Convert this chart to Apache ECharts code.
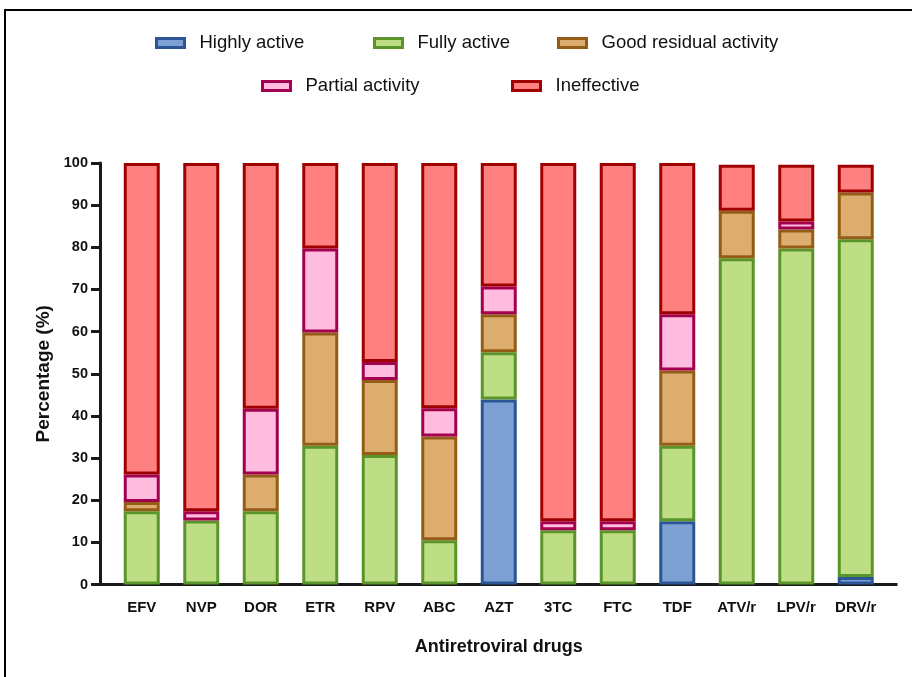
<!DOCTYPE html>
<html>
<head>
<meta charset="utf-8">
<script src="https://cdn.jsdelivr.net/npm/echarts@6/dist/echarts.min.js"></script>
<style>
	html, body { margin: 0; padding: 0; background: #fff; }
	#chartDiv { width: 912px; height: 677px; }
</style>
</head>
<body>
<div id="chartDiv"></div>
<script>
var drugs = ['EFV', 'NVP', 'DOR', 'ETR', 'RPV', 'ABC', 'AZT', '3TC', 'FTC', 'TDF', 'ATV/r', 'LPV/r', 'DRV/r'];

var highlyActive = [0, 0, 0, 0, 0, 0, 43.9, 0, 0, 15.0, 0, 0, 1.8];
var fullyActive = [17.4, 15.2, 17.4, 32.9, 30.7, 10.5, 11.2, 12.9, 12.9, 17.9, 77.4, 79.7, 80.1];
var goodResidual = [2.2, 0, 8.7, 26.9, 17.8, 24.6, 9.0, 0, 0, 17.9, 11.3, 4.5, 11.1];
var partialActivity = [6.5, 2.2, 15.6, 19.9, 4.3, 6.7, 6.6, 2.1, 2.1, 13.3, 0, 1.9, 0];
var ineffective = [73.9, 82.6, 58.3, 20.3, 47.2, 58.2, 29.3, 85.0, 85.0, 35.9, 10.9, 13.5, 6.6];

var fontName = '"Liberation Sans", Arial, sans-serif';
var axisColor = '#1a1a1a';

// grid geometry (categories sit 12px inside the axis line ends)
var gridLeft = 112, gridRight = 26.5, gridTop = 163, gridBottom = 92.5, axisPad = 12;

var groups = [
	{ name: 'Highly active', data: highlyActive, fill: '#7ea1d4', border: '#2b5595', left: 155, top: 33.5 },
	{ name: 'Fully active', data: fullyActive, fill: '#bede86', border: '#5b952a', left: 373, top: 33.5 },
	{ name: 'Good residual activity', data: goodResidual, fill: '#ddad70', border: '#945d16', left: 557, top: 33.5 },
	{ name: 'Partial activity', data: partialActivity, fill: '#ffbcde', border: '#a3004f', left: 261, top: 76.5 },
	{ name: 'Ineffective', data: ineffective, fill: '#ff8080', border: '#a00000', left: 511, top: 76.5 }
];

var chart = echarts.init(document.getElementById('chartDiv'));

function buildSeries() {
	var series = [];
	for (var i = 0; i < groups.length; i++) {
		var g = groups[i];
		series.push({
			name: g.name,
			type: 'bar',
			stack: 'total',
			barWidth: 36,
			data: g.data.map(function (v) { return v === 0 ? '-' : v; }),
			itemStyle: {
				color: g.fill,
				borderColor: g.border,
				borderWidth: 3
			},
			emphasis: { disabled: true },
			animation: false
		});
	}
	return series;
}

function buildLegends() {
	var legends = [];
	for (var i = 0; i < groups.length; i++) {
		var g = groups[i];
		legends.push({
			data: [g.name],
			left: g.left,
			top: g.top,
			padding: 0,
			icon: 'rect',
			itemWidth: 28,
			itemHeight: 9,
			selectedMode: false,
			itemStyle: {
				color: g.fill,
				borderColor: g.border,
				borderWidth: 3
			},
			textStyle: {
				fontFamily: fontName,
				fontSize: 18.5,
				color: '#111',
				padding: [0, 0, 0, 10]
			}
		});
	}
	return legends;
}

var width = 912, height = 677;
var axisY = height - gridBottom;
var xStart = gridLeft - axisPad;
var xEnd = width - gridRight + axisPad;

var option = {
	backgroundColor: '#fff',
	textStyle: { fontFamily: fontName },
	legend: buildLegends(),
	grid: {
		left: gridLeft,
		right: gridRight,
		top: gridTop,
		bottom: gridBottom,
		containLabel: false
	},
	xAxis: {
		type: 'category',
		data: drugs,
		name: 'Antiretroviral drugs',
		nameLocation: 'middle',
		nameGap: 54,
		nameTextStyle: {
			fontFamily: fontName,
			fontSize: 18,
			fontWeight: 'bold',
			color: '#111'
		},
		axisLine: {
			lineStyle: { color: axisColor, width: 3 }
		},
		axisTick: {
			alignWithLabel: true,
			length: 8,
			lineStyle: { color: axisColor, width: 3 }
		},
		axisLabel: {
			margin: 16,
			fontFamily: fontName,
			fontSize: 15,
			fontWeight: 'bold',
			color: '#111'
		},
		splitLine: { show: false }
	},
	yAxis: {
		type: 'value',
		min: 0,
		max: 100,
		interval: 10,
		offset: axisPad,
		name: 'Percentage (%)',
		nameLocation: 'middle',
		nameGap: 47,
		nameTextStyle: {
			fontFamily: fontName,
			fontSize: 19,
			fontWeight: 'bold',
			color: '#111'
		},
		axisLine: {
			show: true,
			lineStyle: { color: axisColor, width: 3 }
		},
		axisTick: {
			show: true,
			length: 9,
			lineStyle: { color: axisColor, width: 3 }
		},
		axisLabel: {
			margin: 12,
			fontFamily: fontName,
			fontSize: 14.5,
			fontWeight: 'bold',
			color: '#111'
		},
		splitLine: { show: false }
	},
	graphic: [
		{
			type: 'rect',
			shape: { x: 5, y: 10, width: 1000, height: 800 },
			style: { fill: 'none', stroke: '#000', lineWidth: 2 },
			silent: true
		},
		{
			type: 'line',
			shape: { x1: xStart - 1.5, y1: axisY, x2: gridLeft, y2: axisY },
			style: { stroke: axisColor, lineWidth: 3 },
			silent: true
		},
		{
			type: 'line',
			shape: { x1: width - gridRight, y1: axisY, x2: xEnd, y2: axisY },
			style: { stroke: axisColor, lineWidth: 3 },
			silent: true
		}
	],
	series: buildSeries()
};

chart.setOption(option, true);
</script>
</body>
</html>
